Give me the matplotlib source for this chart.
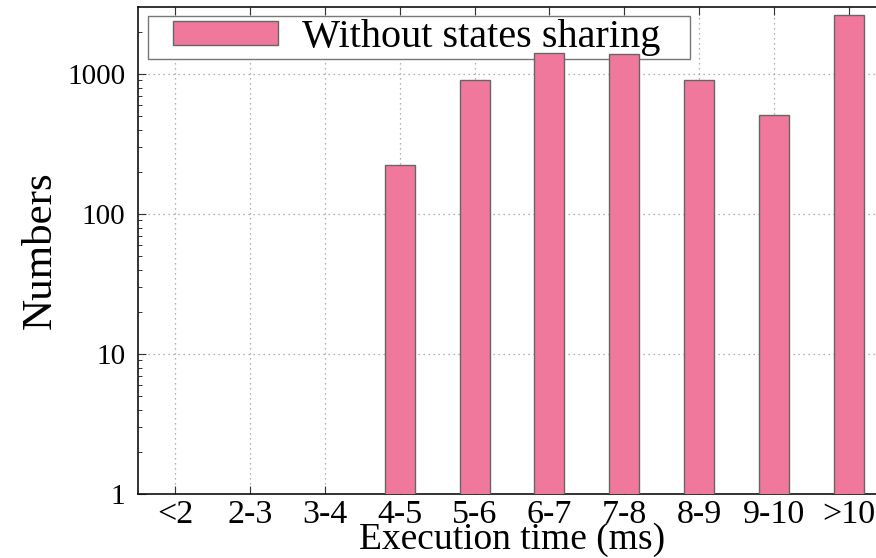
import matplotlib
matplotlib.use("Agg")
import matplotlib.pyplot as plt
from matplotlib.ticker import LogLocator, FixedLocator, NullFormatter
from matplotlib.patches import Rectangle
import numpy as np

categories = ["<2", "2-3", "3-4", "4-5", "5-6", "6-7", "7-8", "8-9", "9-10", ">10"]
counts = [0, 0, 0, 224, 905, 1420, 1400, 905, 510, 2630]
y_ticks = [1, 10, 100, 1000]
y_tick_labels = ["1", "10", "100", "1000"]
series_name = "Without states sharing"

plt.rcParams['font.family'] = ['Liberation Serif', 'DejaVu Serif']

fig = plt.figure(figsize=(8.76, 5.58), dpi=100)
W, H = 876, 558
left, right, top, bottom = 138, 886, 7.3, 494
ax = fig.add_axes([left / W, (H - bottom) / H, (right - left) / W, (bottom - top) / H])

x = np.arange(len(categories))
vals = np.array(counts, dtype=float)
mask = vals > 0
ax.bar(x[mask], vals[mask], width=0.4, color="#f0789c", edgecolor="#666666",
       linewidth=1.0, label=series_name, zorder=3)

ax.set_yscale("log")
ax.set_ylim(1, 2995)
ax.set_xlim(-0.5, len(categories) - 0.5)

ax.set_xticks(x)
ax.set_xticklabels(categories, fontsize=24.5)
ax.yaxis.set_major_locator(FixedLocator(y_ticks))
ax.set_yticklabels(y_tick_labels, fontsize=21)
ax.yaxis.set_minor_locator(LogLocator(base=10, subs=np.arange(2, 10)))
ax.yaxis.set_minor_formatter(NullFormatter())

ax.tick_params(axis="both", which="major", direction="in", length=5.5, width=0.8,
               top=True, right=True, color="#333333")
ax.tick_params(axis="y", which="minor", direction="in", length=3, width=0.7,
               right=True, color="#333333")
ax.tick_params(axis="x", which="major", pad=4)
ax.tick_params(axis="y", which="major", pad=9)

ax.grid(True, which="major", linestyle=(0, (1, 3)), color="#999999", linewidth=0.9, zorder=0)
ax.set_axisbelow(True)

for s in ax.spines.values():
    s.set_linewidth(1.2)
    s.set_color("#111111")

ax.set_ylabel("Numbers", fontsize=31, labelpad=5.5)
ax.set_xlabel("Execution time (ms)", fontsize=27, labelpad=-5.5)

# legend key box (gnuplot style)
ah = bottom - top
aw = right - left
bx0, bx1, by0, by1 = 148, 690, 16, 59
frame = Rectangle(((bx0 - left) / aw, (bottom - by1) / ah), (bx1 - bx0) / aw, (by1 - by0) / ah,
                  transform=ax.transAxes, facecolor="white", edgecolor="#777777",
                  linewidth=1.0, zorder=2.4)
ax.add_patch(frame)

leg = ax.legend(loc="center left", bbox_to_anchor=((173 - left) / aw, (bottom - 37.5) / ah),
                fontsize=29, frameon=False,
                handlelength=2.6, handleheight=0.55, handletextpad=0.6,
                borderpad=0.0, borderaxespad=0.0)
leg.set_zorder(2.5)

fig.savefig("out.png", dpi=100)
